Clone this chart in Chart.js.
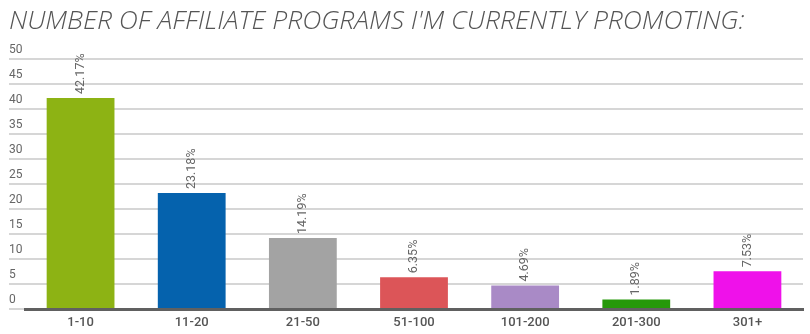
<!DOCTYPE html>
<html>
<head>
<meta charset="utf-8">
<script src="https://cdn.jsdelivr.net/npm/chart.js@4"></script>
<style>
  html, body { margin: 0; padding: 0; background: #fff; }
  #wrap { width: 810px; height: 334px; }
</style>
</head>
<body>
<div id="wrap"><canvas id="programs"></canvas></div>
<script>
const categories = ['1-10', '11-20', '21-50', '51-100', '101-200', '201-300', '301+'];
const shares = [42.17, 23.18, 14.19, 6.35, 4.69, 1.89, 7.53];
const barColors = ['#8db314', '#0562ad', '#a3a3a3', '#dc5558', '#a98ac6', '#26990a', '#ef11ea'];
const yTicks = [0, 5, 10, 15, 20, 25, 30, 35, 40, 45, 50];

// writes the percentage vertically just above each bar
const valueLabels = {
  id: 'valueLabels',
  afterDatasetsDraw(chart) {
    const ctx = chart.ctx;
    const meta = chart.getDatasetMeta(0);
    ctx.save();
    ctx.font = '12.5px Roboto';
    ctx.fillStyle = '#666';
    ctx.textAlign = 'left';
    ctx.textBaseline = 'middle';
    meta.data.forEach((bar, i) => {
      ctx.save();
      ctx.translate(bar.x, bar.y - 4);
      ctx.rotate(-Math.PI / 2);
      ctx.fillText(shares[i].toFixed(2) + '%', 0, 0);
      ctx.restore();
    });
    ctx.restore();
  }
};

new Chart(document.getElementById('programs'), {
  type: 'bar',
  data: {
    labels: categories,
    datasets: [{
      data: shares,
      backgroundColor: barColors,
      barPercentage: 0.61,
      categoryPercentage: 1
    }]
  },
  options: {
    responsive: true,
    maintainAspectRatio: false,
    animation: false,
    layout: { padding: { left: 9, right: 7, top: 0, bottom: 0 } },
    plugins: {
      legend: { display: false },
      tooltip: { enabled: false },
      title: {
        display: true,
        text: "NUMBER OF AFFILIATE PROGRAMS I'M CURRENTLY PROMOTING:",
        align: 'start',
        color: '#555',
        font: { family: 'Open Sans', size: 26.5, style: 'italic', weight: 300 },
        padding: { top: 6, bottom: 21 }
      }
    },
    scales: {
      x: {
        afterFit(scale) {
          scale.height = 25;
        },
        grid: { display: false, drawTicks: false },
        border: { color: '#606060', width: 3 },
        ticks: {
          color: '#555',
          padding: 6,
          font: { family: 'Roboto', size: 13, weight: 500 }
        }
      },
      y: {
        min: 0,
        max: 50,
        afterBuildTicks(scale) {
          scale.ticks = yTicks.map(v => ({ value: v }));
        },
        // labels sit on the far left, above their grid lines
        afterFit(scale) {
          scale.width = 16;
        },
        border: { display: false },
        grid: { color: '#d6d6d6', lineWidth: 2, tickLength: 16 },
        ticks: {
          crossAlign: 'far',
          padding: 0,
          labelOffset: -9,
          color: '#666',
          font: { family: 'Roboto', size: 12 }
        }
      }
    }
  },
  plugins: [valueLabels]
});
</script>
</body>
</html>
